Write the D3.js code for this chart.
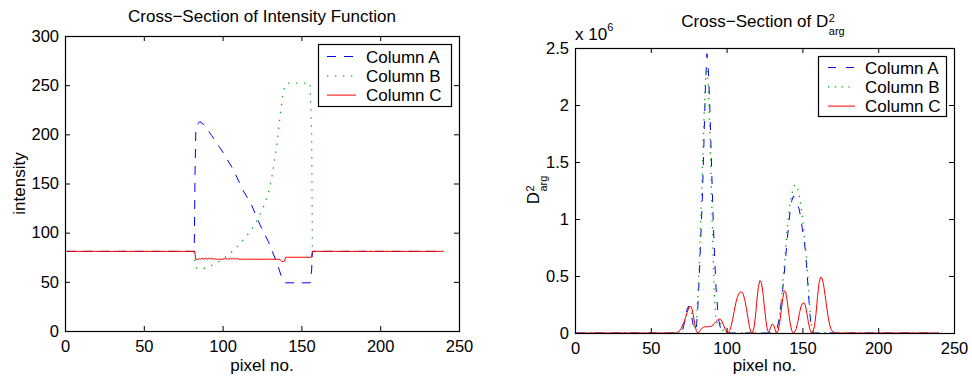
<!DOCTYPE html>
<html><head><meta charset="utf-8">
<script src="https://cdn.jsdelivr.net/npm/d3@7"></script>
<style>
body{margin:0;background:#fff}
svg{display:block}
text{font-family:"Liberation Sans",Arial,Helvetica,sans-serif;fill:#000}
</style>
</head><body>
<svg id="c" width="972" height="381"></svg>
<script>
// ---------- tick labels / categories ----------
const xTicks = [0, 50, 100, 150, 200, 250];
const intensityTicks = [0, 50, 100, 150, 200, 250, 300];
const dargTicks = [0, 0.5, 1, 1.5, 2, 2.5];
const seriesNames = ["Column A", "Column B", "Column C"];

// ---------- left panel: intensity cross-section ----------
const intensityA_x = [1, 82, 82.5, 83, 84, 85.5, 88, 93, 100.5, 106.8, 113, 118.4, 123.7, 129, 134.3, 137, 138.5, 140, 155.5, 156.5, 157, 240];
const intensityA_y = [81, 81, 160, 203, 210, 213, 210, 199, 181, 164, 143, 128, 108, 91, 70, 57, 51, 49, 49, 62, 81, 81];

const intensityB_x = [1, 82, 82.5, 83.5, 85, 88, 92, 96, 100, 104, 107, 111, 115, 119, 123, 127, 130, 132, 134, 136, 138, 139.5, 141, 155.5, 156.5, 157, 240];
const intensityB_y = [81, 81, 70, 64, 63, 63.5, 66, 69, 73, 78, 82, 89, 96, 105, 116, 130, 146, 163, 185, 212, 238, 249, 252, 252, 200, 81, 81];

const intensityC_x = [1, 82.3, 83, 84, 85, 86, 87, 88, 89, 90, 91, 92, 93, 94, 95, 96, 97, 98, 100, 102, 104, 105, 106, 107, 108, 109, 110, 112, 115, 120, 125, 130, 135, 136.5, 137.5, 138.5, 139.3, 140, 156.3, 157, 240];
const intensityC_y = [81, 81, 73, 72.5, 73.5, 73, 74, 73, 74, 73, 74, 73.2, 74, 73, 73.5, 73, 73, 73, 73, 73.5, 73, 74, 73, 74, 73, 74, 73, 73, 73, 73, 73, 73, 73, 72.5, 71, 70.5, 71, 75, 75, 81, 81];

// ---------- right panel: D^2_arg cross-section (x 10^6) ----------
const dargA_x = [1, 69, 70, 71, 72, 73, 74, 75, 76, 77, 78, 79, 80, 81, 82, 83, 84, 85, 86, 87, 88, 89, 90, 91, 92, 93, 94, 95, 96, 97, 98,
  132, 133, 134, 135, 136, 137, 138, 139, 140, 141, 142, 143, 144, 145, 146, 147, 148, 149, 150, 151, 152, 153, 154, 155, 156, 157, 240];
const dargA_y = [0, 0, 0.005, 0.03, 0.08, 0.15, 0.21, 0.235, 0.2, 0.14, 0.07, 0.02, 0.03, 0.22, 0.5, 0.85, 1.17, 1.65, 2.15, 2.45, 2.3, 1.95, 1.5, 1.05, 0.7, 0.4, 0.22, 0.1, 0.04, 0.01, 0,
  0, 0.03, 0.08, 0.16, 0.27, 0.38, 0.52, 0.67, 0.82, 0.96, 1.08, 1.16, 1.2, 1.19, 1.16, 1.12, 1.08, 1.0, 0.91, 0.82, 0.72, 0.55, 0.35, 0.16, 0.04, 0, 0];

const dargB_x = [1, 69, 71, 72, 73, 74, 75, 76, 77, 78, 79, 80, 81, 82, 83, 84, 85, 86, 87, 88, 89, 90, 91, 92, 93, 94, 95, 96, 97, 98, 99,
  133, 134, 135, 136, 137, 138, 139, 140, 141, 142, 143, 144, 145, 146, 147, 148, 149, 150, 151, 152, 153, 154, 155, 156, 157, 240];
const dargB_y = [0, 0, 0.03, 0.07, 0.13, 0.19, 0.22, 0.21, 0.17, 0.1, 0.04, 0.08, 0.3, 0.6, 1.0, 1.42, 1.85, 2.2, 2.32, 2.15, 1.75, 1.25, 0.75, 0.3, 0.12, 0.08, 0.1, 0.09, 0.05, 0.01, 0,
  0, 0.06, 0.16, 0.28, 0.43, 0.58, 0.75, 0.92, 1.05, 1.14, 1.22, 1.27, 1.3, 1.29, 1.26, 1.2, 1.12, 1.02, 0.88, 0.76, 0.6, 0.4, 0.2, 0.06, 0, 0];

const dargC_x = [1, 66, 67, 68, 69, 70, 71, 72, 73, 74, 75, 76, 77, 78, 79, 80, 81, 82, 83, 84, 85, 86, 87, 88, 89, 90,
  91, 92, 93, 94, 95, 96, 97, 98, 99, 100, 101, 102, 103, 104, 105, 106, 107, 108, 109, 110,
  111, 112, 113, 114, 115, 116, 117, 118, 119, 120, 121, 122, 123, 124, 125, 126, 127, 128, 129, 130,
  131, 132, 133, 134, 135, 136, 137, 138, 139, 140, 141, 142, 143, 144, 145, 146, 147, 148, 149, 150,
  151, 152, 153, 154, 155, 156, 157, 158, 159, 160, 161, 162, 163, 164, 165, 166, 167, 168, 169, 170, 171, 240];
const dargC_y = [0, 0, 0.003, 0.01, 0.02, 0.04, 0.07, 0.1, 0.14, 0.18, 0.22, 0.237, 0.22, 0.16, 0.08, 0.02, 0, 0.01, 0.03, 0.045, 0.052, 0.055, 0.055, 0.055, 0.056, 0.06,
  0.07, 0.085, 0.1, 0.115, 0.123, 0.12, 0.1, 0.07, 0.035, 0.01, 0, 0.02, 0.06, 0.12, 0.19, 0.26, 0.31, 0.345, 0.36, 0.36,
  0.34, 0.29, 0.22, 0.14, 0.06, 0.01, 0, 0.04, 0.14, 0.29, 0.41, 0.46, 0.44, 0.35, 0.22, 0.1, 0.02, 0.01, 0.05, 0.08,
  0.07, 0.03, 0, 0.02, 0.09, 0.19, 0.3, 0.37, 0.36, 0.28, 0.17, 0.08, 0.02, 0, 0.01, 0.04, 0.1, 0.17, 0.23, 0.26,
  0.265, 0.24, 0.17, 0.09, 0.03, 0, 0.01, 0.06, 0.17, 0.32, 0.44, 0.49, 0.48, 0.42, 0.33, 0.23, 0.14, 0.07, 0.03, 0.01, 0, 0];

// ---------- drawing ----------
const FONT = '"Liberation Sans",Arial,Helvetica,sans-serif';
const svg = d3.select("#c");
const colors = ["#0000ff", "#00a800", "#ff0000"];

function zip(xs, ys) { return xs.map((v, i) => [v, ys[i]]); }

function panel(o) {
  const x = d3.scaleLinear().domain([0, 250]).range([o.left, o.right]);
  const y = d3.scaleLinear().domain(o.yDomain).range([o.bottom, o.top]);
  const g = svg.append("g");

  const clipId = "clip" + o.id;
  svg.append("clipPath").attr("id", clipId).append("rect")
    .attr("x", o.left).attr("y", o.top).attr("width", o.right - o.left).attr("height", o.bottom - o.top);

  const line = d3.line().x(d => x(d[0])).y(d => y(d[1]));
  const lines = g.append("g").attr("clip-path", `url(#${clipId})`);
  o.series.forEach((s, i) => {
    lines.append("path").datum(zip(s.x, s.y))
      .attr("d", line).attr("fill", "none")
      .attr("stroke", colors[i]).attr("stroke-width", i === 1 ? 1.3 : 1)
      .attr("stroke-dasharray", o.dashes[i] || null);
  });

  const styleAxis = sel => {
    sel.select(".domain").remove();
    sel.selectAll(".tick line").attr("stroke", "#000");
    sel.selectAll("text").attr("font-size", 16.5).attr("font-family", FONT).attr("fill", "#000");
    sel.attr("font-family", FONT);
  };
  g.append("g").attr("transform", `translate(0,${o.bottom})`)
    .call(d3.axisBottom(x).tickValues(xTicks).tickSizeInner(-5).tickSizeOuter(0).tickPadding(9)).call(styleAxis);
  g.append("g").attr("transform", `translate(0,${o.top})`)
    .call(d3.axisTop(x).tickValues(xTicks).tickSizeInner(-5).tickSizeOuter(0).tickFormat(() => "")).call(styleAxis);
  g.append("g").attr("transform", `translate(${o.left},0)`)
    .call(d3.axisLeft(y).tickValues(o.yTicks).tickSizeInner(-5).tickSizeOuter(0).tickPadding(6).tickFormat(d => String(d))).call(styleAxis);
  g.append("g").attr("transform", `translate(${o.right},0)`)
    .call(d3.axisRight(y).tickValues(o.yTicks).tickSizeInner(-5).tickSizeOuter(0).tickFormat(() => "")).call(styleAxis);

  g.append("rect").attr("x", o.left + 0.5).attr("y", o.top + 0.5)
    .attr("width", o.right - o.left).attr("height", o.bottom - o.top)
    .attr("fill", "none").attr("stroke", "#000").attr("stroke-width", 1.2);

  // x-axis label
  g.append("text").attr("x", (o.left + o.right) / 2).attr("y", 370.5)
    .attr("text-anchor", "middle").attr("font-size", 17).text("pixel no.");

  // legend
  const L = o.legend;
  const lg = g.append("g");
  lg.append("rect").attr("x", L.x + 0.5).attr("y", L.y + 0.5).attr("width", L.w).attr("height", L.h)
    .attr("fill", "#fff").attr("stroke", "#000").attr("stroke-width", 1.2);
  seriesNames.forEach((name, i) => {
    const cy = L.y + L.first + i * L.step;
    lg.append("line").attr("x1", L.x + L.lx1).attr("x2", L.x + L.lx2).attr("y1", cy).attr("y2", cy)
      .attr("stroke", colors[i]).attr("stroke-width", i === 1 ? 1.3 : 1)
      .attr("stroke-dasharray", o.dashes[i] || null);
    lg.append("text").attr("x", L.x + L.tx).attr("y", cy + 6).attr("font-size", 17).text(name);
  });
  return { x, y, g };
}

// Left panel
const P1 = panel({
  id: 1, left: 65, right: 459, top: 36, bottom: 331, yDomain: [0, 300], yTicks: intensityTicks,
  series: [{ x: intensityA_x, y: intensityA_y }, { x: intensityB_x, y: intensityB_y }, { x: intensityC_x, y: intensityC_y }],
  dashes: ["9,8", "1.3,6.7", null],
  legend: { x: 318, y: 44, w: 133, h: 62, first: 12.5, step: 19.3, lx1: 9, lx2: 38, tx: 48 }
});
P1.g.append("text").attr("x", 262).attr("y", 22).attr("text-anchor", "middle").attr("font-size", 17)
  .text("Cross\u2212Section of Intensity Function");
P1.g.append("text").attr("transform", "translate(25,183.5) rotate(-90)").attr("text-anchor", "middle")
  .attr("font-size", 17).text("intensity");

// Right panel
const P2 = panel({
  id: 2, left: 575, right: 954, top: 48, bottom: 333, yDomain: [0, 2.5], yTicks: dargTicks,
  series: [{ x: dargA_x, y: dargA_y }, { x: dargB_x, y: dargB_y }, { x: dargC_x, y: dargC_y }],
  dashes: ["8,10", "1.3,5.5", null],
  legend: { x: 818, y: 56, w: 128, h: 60, first: 11.5, step: 19.3, lx1: 10, lx2: 37, tx: 47 }
});

// D^2_arg label helper: draws "D" with stacked super "2" and sub "arg"
function dLabel(parent, prefix) {
  const grp = parent.append("g");
  const t = grp.append("text").attr("x", 0).attr("y", 0).attr("font-size", 17).text(prefix + "D");
  const w = t.node().getComputedTextLength();
  const s1 = grp.append("text").attr("x", w + 0.5).attr("y", -4.8).attr("font-size", 11).text("2");
  const s2 = grp.append("text").attr("x", w + 0.5).attr("y", 8).attr("font-size", 11).text("arg");
  const total = w + 0.5 + Math.max(s1.node().getComputedTextLength(), s2.node().getComputedTextLength());
  return { grp, total };
}
const title2 = dLabel(P2.g, "Cross\u2212Section of ");
title2.grp.attr("transform", `translate(${763 - title2.total / 2},26.5)`);

const ylab2 = dLabel(P2.g, "");
ylab2.grp.attr("transform", `translate(539,${190 + ylab2.total / 2}) rotate(-90)`);

// exponent note
const ex = P2.g.append("text").attr("x", 575).attr("y", 40).attr("font-size", 17);
ex.append("tspan").text("x 10");
ex.append("tspan").attr("dy", -9).attr("font-size", 11).text("6");
</script>
</body></html>
